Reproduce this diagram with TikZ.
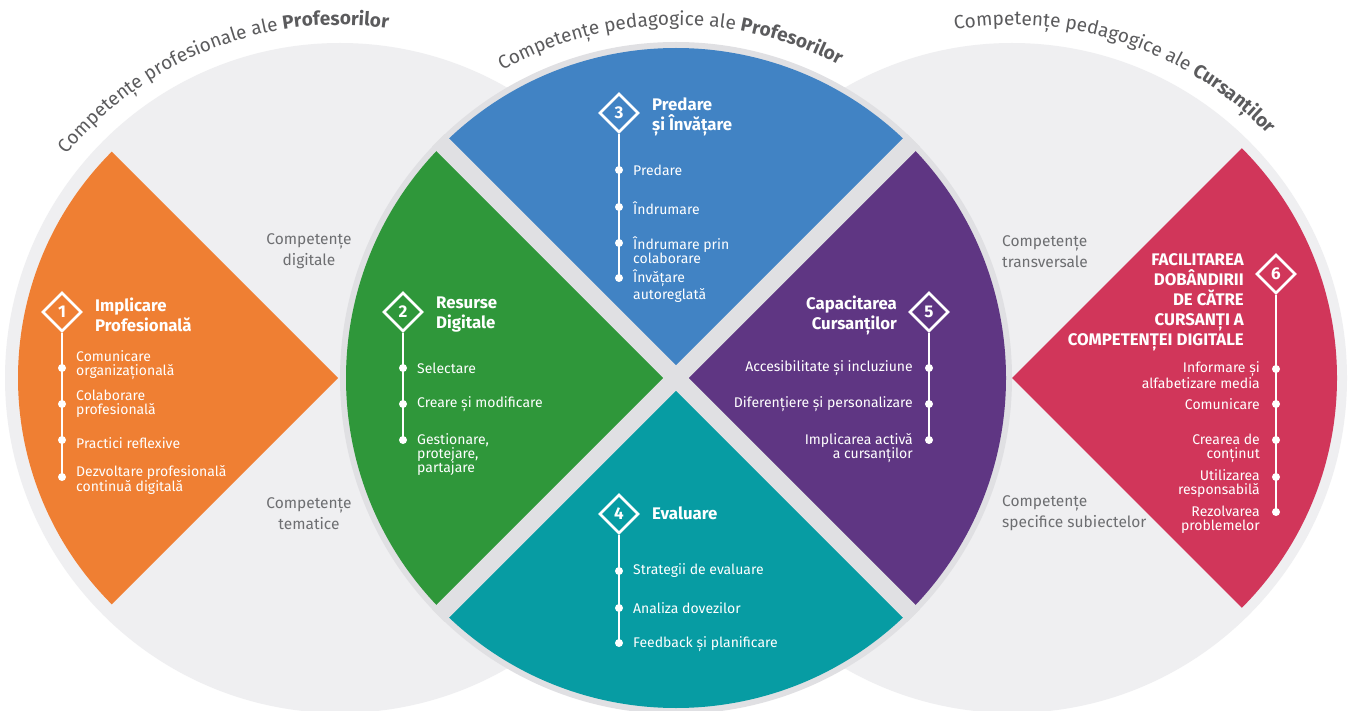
\documentclass[tikz,border=0pt]{standalone}
\usepackage{fontspec}
\setmainfont{Fira Sans}
\usetikzlibrary{shapes.geometric,decorations.text}
\definecolor{cgrey}{HTML}{EFEFF1}
\definecolor{ringgrey}{HTML}{E0E0E3}
\definecolor{corange}{HTML}{EF7F33}
\definecolor{cgreen}{HTML}{2F973A}
\definecolor{cblue}{HTML}{4183C4}
\definecolor{cteal}{HTML}{079CA3}
\definecolor{cpurple}{HTML}{5F3683}
\definecolor{cred}{HTML}{D1365A}
\definecolor{titlegrey}{HTML}{5B5B5D}
\definecolor{labelgrey}{HTML}{6D6E71}
\tikzset{
  num/.style={shape=diamond, draw=white, line width=2.6pt, minimum width=39pt, minimum height=39pt, inner sep=0pt, text=white, font=\fontsize{17}{17}\selectfont\bfseries},
  ttl/.style={text=white, font=\fontsize{16.8}{20}\selectfont\bfseries, inner sep=0pt, align=left, anchor=west},
  ttr/.style={text=white, font=\fontsize{16.8}{20}\selectfont\bfseries, inner sep=0pt, align=right, anchor=east},
  itm/.style={text=white, font=\fontsize{14}{14}\selectfont, inner sep=0pt, align=left, anchor=west},
  itr/.style={text=white, font=\fontsize{14}{14}\selectfont, inner sep=0pt, align=right, anchor=east},
  dot/.style={circle, fill=white, minimum size=8pt, inner sep=0pt},
  stem/.style={draw=white, line width=2.6pt},
  lbl/.style={text=labelgrey, font=\fontsize{15.5}{21}\selectfont, inner sep=0pt},
}
\begin{document}
\begin{tikzpicture}[x=1pt,y=-1pt]
\useasboundingbox (0,0) rectangle (1352,711);
\fill[white] (0,0) rectangle (1352,711);
% background circles
\fill[cgrey] (340,378) circle[radius=335];
\fill[cgrey] (1012,378) circle[radius=335];
\fill[ringgrey] (676,378) circle[radius=336];
% middle quadrants
\fill[cblue] (676,378) -- ++(-135:330) arc[start angle=-135, end angle=-45, radius=330] -- cycle;
\fill[cpurple] (676,378) -- ++(-45:330) arc[start angle=-45, end angle=45, radius=330] -- cycle;
\fill[cteal] (676,378) -- ++(45:330) arc[start angle=45, end angle=135, radius=330] -- cycle;
\fill[cgreen] (676,378) -- ++(135:330) arc[start angle=135, end angle=225, radius=330] -- cycle;
\begin{scope}
  \clip (676,378) circle[radius=336];
  \draw[ringgrey, line width=18pt] (438.4,140.4) -- (913.6,615.6);
  \draw[ringgrey, line width=18pt] (913.6,140.4) -- (438.4,615.6);
\end{scope}
% side sectors
\fill[corange] (338,378) -- ++(135:320) arc[start angle=135, end angle=225, radius=320] -- cycle;
\fill[cred] (1012,378) -- ++(-45:325) arc[start angle=-45, end angle=45, radius=325] -- cycle;

% curved titles
\path[shift={(340,378)}, decorate, decoration={text along path, text align=center,
  text={|\fontsize{19}{19}\selectfont\color{titlegrey}|Competențe profesionale ale |\fontsize{19}{19}\selectfont\bfseries\color{titlegrey}|Profesorilor}}]
  (-151.5:353) arc[start angle=-151.5, end angle=-71.5, radius=353];
\path[shift={(676,378)}, decorate, decoration={text along path, text align=center,
  text={|\fontsize{19}{19}\selectfont\color{titlegrey}|Competențe pedagogice ale |\fontsize{19}{19}\selectfont\bfseries\color{titlegrey}|Profesorilor}}]
  (-131:353) arc[start angle=-131, end angle=-51, radius=353];
\path[shift={(1012,378)}, decorate, decoration={text along path, text align=center,
  text={|\fontsize{19}{19}\selectfont\color{titlegrey}|Competențe pedagogice ale |\fontsize{19}{19}\selectfont\bfseries\color{titlegrey}|Cursanților}}]
  (-111.5:353) arc[start angle=-111.5, end angle=-31.5, radius=353];

% grey labels
\node[lbl, align=center] (l1) at (309,251.5) {Competențe\\digitale};
\node[lbl, align=center] (l2) at (309,513.5) {Competențe\\tematice};
\node[lbl, align=left, anchor=west] (l3) at (1002,251.5) {Competențe\\transversale};
\node[lbl, align=left, anchor=west] (l4) at (1002,513.5) {Competențe\\specifice subiectelor};

% ---- 1 orange
\node[num, fill=corange] (n1) at (62,312) {1};
\node[dot] (a1) at (62,368) {};
\node[dot] (a2) at (62,404) {};
\node[dot] (a3) at (62,440) {};
\node[dot] (a4) at (62,477) {};
\draw[stem] (n1.south) -- (a4.center);
\node[ttl] (t1) at (95,315) {Implicare\\Profesională};
\node[itm] (i11) at (76,365) {Comunicare\\organizațională};
\node[itm] (i12) at (76,404) {Colaborare\\profesională};
\node[itm] (i13) at (76,443) {Practici reflexive};
\node[itm] (i14) at (76,480) {Dezvoltare profesională\\continuă digitală};

% ---- 2 green
\node[num, fill=cgreen] (n2) at (403,312) {2};
\node[dot] (b1) at (403,368) {};
\node[dot] (b2) at (403,404) {};
\node[dot] (b3) at (403,440) {};
\draw[stem] (n2.south) -- (b3.center);
\node[ttl] (t2) at (436,315) {Resurse\\Digitale};
\node[itm] (i21) at (417,368) {Selectare};
\node[itm] (i22) at (417,404) {Creare și modificare};
\node[itm] (i23) at (417,455) {Gestionare,\\protejare,\\partajare};

% ---- 3 blue
\node[num, fill=cblue] (n3) at (619,113) {3};
\node[dot] (c1) at (619,170) {};
\node[dot] (c2) at (619,207) {};
\node[dot] (c3) at (619,243) {};
\node[dot] (c4) at (619,278) {};
\draw[stem] (n3.south) -- (c4.center);
\node[ttl] (t3) at (652,117) {Predare\\și Învățare};
\node[itm] (i31) at (633,170) {Predare};
\node[itm] (i32) at (633,208) {Îndrumare};
\node[itm] (i33) at (633,250) {Îndrumare prin\\colaborare};
\node[itm] (i34) at (633,286) {Învățare\\autoreglată};

% ---- 4 teal
\node[num, fill=cteal] (n4) at (619,514) {4};
\node[dot] (e1) at (619,571) {};
\node[dot] (e2) at (619,608) {};
\node[dot] (e3) at (619,643) {};
\draw[stem] (n4.south) -- (e3.center);
\node[ttl] (t4) at (652,513) {Evaluare};
\node[itm] (i41) at (633,571) {Strategii de evaluare};
\node[itm] (i42) at (633,608) {Analiza dovezilor};
\node[itm] (i43) at (633,644) {Feedback și planificare};

% ---- 5 purple
\node[num, fill=cpurple] (n5) at (929,312) {5};
\node[dot] (f1) at (929,368) {};
\node[dot] (f2) at (929,404) {};
\node[dot] (f3) at (929,440) {};
\draw[stem] (n5.south) -- (f3.center);
\node[ttr] (t5) at (897,315) {Capacitarea\\Cursanților};
\node[itr] (i51) at (913,368) {Accesibilitate și incluziune};
\node[itr] (i52) at (913,404) {Diferențiere și personalizare};
\node[itr] (i53) at (913,448) {Implicarea activă\\a cursanților};

% ---- 6 red
\node[num, fill=cred] (n6) at (1276,274) {6};
\node[dot] (g1) at (1276,369) {};
\node[dot] (g2) at (1276,404) {};
\node[dot] (g3) at (1276,440) {};
\node[dot] (g4) at (1276,477) {};
\node[dot] (g5) at (1276,512) {};
\draw[stem] (n6.south) -- (g5.center);
\node[ttr] (t6) at (1244,302.5) {FACILITAREA\\DOBÂNDIRII\\DE CĂTRE\\CURSANȚI A\\COMPETENȚEI DIGITALE};
\node[itr] (i61) at (1260,375) {Informare și\\alfabetizare media};
\node[itr] (i62) at (1260,404) {Comunicare};
\node[itr] (i63) at (1260,448) {Crearea de\\conținut};
\node[itr] (i64) at (1260,484) {Utilizarea\\responsabilă};
\node[itr] (i65) at (1260,520) {Rezolvarea\\problemelor};
\end{tikzpicture}
\end{document}
